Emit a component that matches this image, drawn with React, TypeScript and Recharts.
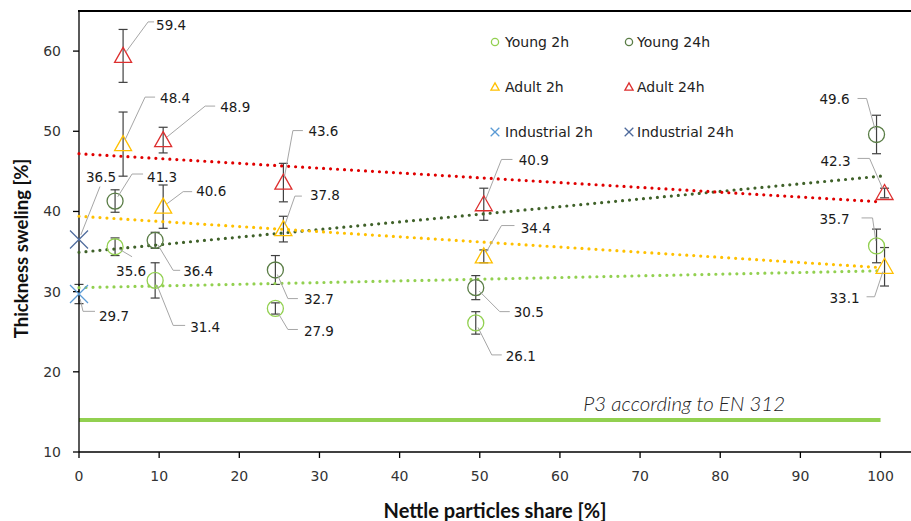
import { ScatterChart, Scatter, XAxis, YAxis, ErrorBar, ReferenceLine } from "recharts";

// x positions of the measured points (young shifted left, adult right of the nominal share)
const youngX = [4.5, 9.5, 24.5, 49.5, 99.5];
const adultX = [5.5, 10.5, 25.5, 50.5, 100.5];
const industrialX = [0];

const young2h = [35.6, 31.4, 27.9, 26.1, 35.7];
const young2hErr = [1.1, 2.2, 0.7, 1.4, 2.1];
const young24h = [41.3, 36.4, 32.7, 30.5, 49.6];
const young24hErr = [1.4, 1.0, 1.8, 1.5, 2.4];
const adult2h = [48.4, 40.6, 37.8, 34.4, 33.1];
const adult2hErr = [4.0, 2.7, 1.6, 0.8, 2.4];
const adult24h = [59.4, 48.9, 43.6, 40.9, 42.3];
const adult24hErr = [3.3, 1.6, 2.4, 2.0, 0.6];
const industrial2h = [29.7];
const industrial2hErr = [1.2];
const industrial24h = [36.5];

// linear trend lines (start / end values)
const trendX = [0, 100];
const young2hTrend = [30.5, 32.6];
const young24hTrend = [34.9, 44.4];
const adult2hTrend = [39.4, 33.0];
const adult24hTrend = [47.2, 41.2];

const p3Limit = 14;
const p3Text = "P3 according to EN 312";

const xTicks = [0, 10, 20, 30, 40, 50, 60, 70, 80, 90, 100];
const yTicks = [10, 20, 30, 40, 50, 60];

type MarkerKind = "circle" | "triangle" | "cross";

const SERIES: {
  key: string;
  name: string;
  xs: number[];
  ys: number[];
  errs: number[] | null;
  color: string;
  marker: MarkerKind;
}[] = [
  { key: "young2h", name: "Young 2h", xs: youngX, ys: young2h, errs: young2hErr, color: "#92d050", marker: "circle" },
  { key: "young24h", name: "Young 24h", xs: youngX, ys: young24h, errs: young24hErr, color: "#5a7d46", marker: "circle" },
  { key: "adult2h", name: "Adult 2h", xs: adultX, ys: adult2h, errs: adult2hErr, color: "#ffc000", marker: "triangle" },
  { key: "adult24h", name: "Adult 24h", xs: adultX, ys: adult24h, errs: adult24hErr, color: "#dd2f2f", marker: "triangle" },
  { key: "industrial2h", name: "Industrial 2h", xs: industrialX, ys: industrial2h, errs: industrial2hErr, color: "#5b9bd5", marker: "cross" },
  { key: "industrial24h", name: "Industrial 24h", xs: industrialX, ys: industrial24h, errs: null, color: "#4e6a9c", marker: "cross" },
];

const TRENDS = [
  { key: "t-young2h", ys: young2hTrend, color: "#92d050" },
  { key: "t-young24h", ys: young24hTrend, color: "#3f6129" },
  { key: "t-adult2h", ys: adult2hTrend, color: "#ffc000" },
  { key: "t-adult24h", ys: adult24hTrend, color: "#e00000" },
];

// data label placement: [elbowDx, elbowDy, horizontal length, textDx, textDy] in px
const LABEL_LAYOUT: Record<string, number[][]> = {
  young2h: [[17, 10, 0, 1, 25], [18, 45, 12, 35, 47], [12.5, 21, 10, 28.5, 23], [16, 32, 10, 30, 33.5], [-4, -28, -11, -27, -27]],
  young24h: [[17, -27, 11, 32, -24], [18, 30, 7, 28, 31], [12.5, 28.6, 10, 28.5, 29.6], [24, 24, 10, 38, 25], [-10, -36, -9, -27, -35]],
  adult2h: [[22, -47, 10, 37, -46], [20, -15, 9, 33, -15], [11.5, -33, 7, 26.5, -33.6], [17.7, -30.8, 13, 37, -28], [-10, 30, -8, -25, 31]],
  adult24h: [[25, -34, 6, 33, -31], [42, -34, 10, 57, -33], [9.5, -52, 10, 25, -51], [17.7, -44.8, 11, 35, -44], [-15, -34.6, -12, -34, -32]],
  industrial2h: [[4, 17.3, 12, 20, 22]],
  industrial24h: [[21, -53, 0, 7, -62]],
};

const Marker = ({ kind, x, y, color, s = 1 }: { kind: MarkerKind; x: number; y: number; color: string; s?: number }) => {
  if (kind === "circle") {
    return <circle cx={x} cy={y} r={8 * s} fill="none" stroke={color} strokeWidth={1.3} />;
  }
  if (kind === "triangle") {
    const pts = `${x},${y - 8.5 * s} ${x + 8.5 * s},${y + 6.5 * s} ${x - 8.5 * s},${y + 6.5 * s}`;
    return <polygon points={pts} fill="none" stroke={color} strokeWidth={1.3} />;
  }
  const d = 9 * s;
  return (
    <g stroke={color} strokeWidth={1.3}>
      <line x1={x - d} y1={y - d} x2={x + d} y2={y + d} />
      <line x1={x - d} y1={y + d} x2={x + d} y2={y - d} />
    </g>
  );
};

const makeShape = (s: (typeof SERIES)[number]) => (props: any) => {
  const { cx, cy, payload } = props;
  const lab = LABEL_LAYOUT[s.key][payload.i];
  const [ex, ey, h, tx, ty] = lab;
  const len = Math.hypot(ex, ey) || 1;
  const sx = cx + (ex / len) * 5;
  const sy = cy + (ey / len) * 5;
  return (
    <g>
      <Marker kind={s.marker} x={cx} y={cy} color={s.color} />
      <polyline
        points={`${sx},${sy} ${cx + ex},${cy + ey} ${cx + ex + h},${cy + ey}`}
        fill="none"
        stroke="#a6a6a6"
        strokeWidth={1}
      />
      <text
        x={cx + tx}
        y={cy + ty}
        dy="0.35em"
        textAnchor={tx < 0 ? "end" : "start"}
        fontFamily="DejaVu Sans"
        fontSize={13.5}
        fill="#1a1a1a"
      >
        {payload.y.toFixed(1)}
      </text>
    </g>
  );
};

// legend block of the chart
const Overlay = () => (
  <svg width={911} height={521} style={{ position: "absolute", left: 0, top: 0, pointerEvents: "none" }}>
    {SERIES.map((s, i) => {
      const col = i % 2;
      const row = Math.floor(i / 2);
      const mx = col === 0 ? 495 : 629;
      const tx = col === 0 ? 505 : 637;
      const y = 42 + row * 45;
      return (
        <g key={s.key}>
          <Marker kind={s.marker} x={mx} y={y} color={s.color} s={s.marker === "circle" ? 0.45 : 0.48} />
          <text x={tx} y={y} dy="0.35em" fontFamily="DejaVu Sans" fontSize={14} fill="#222">
            {s.name}
          </text>
        </g>
      );
    })}
  </svg>
);

const App = () => {
  return (
    <div style={{ position: "absolute", left: 0, top: 0, width: 911, height: 521, background: "#fff" }}>
      {/* top frame line of the plot area */}
      <div
        style={{ position: "absolute", left: 78, top: 10, width: 833, height: 2, background: "#000", zIndex: 2 }}
      />
      <ScatterChart width={911} height={521} margin={{ top: 11, right: 0, bottom: 0, left: 0 }}>
        <XAxis
          type="number"
          dataKey="x"
          domain={[0, 103.8]}
          ticks={xTicks}
          height={69}
          tickSize={6}
          tickMargin={13}
          axisLine={{ stroke: "#000", strokeWidth: 1.3 }}
          tickLine={{ stroke: "#000", strokeWidth: 1.3 }}
          tick={{ fill: "#333", fontSize: 14, fontFamily: "DejaVu Sans" }}
          label={{
            value: "Nettle particles share [%]",
            position: "insideBottom",
            offset: 3,
            fill: "#111",
            fontSize: 20,
            fontWeight: 700,
            fontFamily: "Lato",
          }}
        />
        <YAxis
          type="number"
          dataKey="y"
          domain={[10, 65]}
          ticks={yTicks}
          width={79}
          tickSize={6}
          tickMargin={12}
          axisLine={{ stroke: "#000", strokeWidth: 1.3 }}
          tickLine={{ stroke: "#000", strokeWidth: 1.3 }}
          tick={{ fill: "#333", fontSize: 14, fontFamily: "DejaVu Sans" }}
          label={{
            content: (p: any) => {
              const vb = p.viewBox;
              const x = vb.x + 22;
              const y = vb.y + vb.height / 2 + 17;
              return (
                <text
                  x={x}
                  y={y}
                  transform={`rotate(-90 ${x} ${y})`}
                  textAnchor="middle"
                  dy="0.35em"
                  fontFamily="Lato"
                  fontWeight={700}
                  fontSize={18.5}
                  fill="#111"
                >
                  Thickness sweling [%]
                </text>
              );
            },
          }}
        />
        <ReferenceLine
          segment={[
            { x: 0, y: p3Limit },
            { x: 100, y: p3Limit },
          ]}
          stroke="#92d050"
          strokeWidth={4}
          label={{
            content: (p: any) => {
              const vb = p.viewBox;
              return (
                <text
                  x={vb.x + vb.width * 0.629}
                  y={vb.y - 16}
                  dy="0.35em"
                  fontFamily="Lato"
                  fontStyle="italic"
                  fontWeight={300}
                  fontSize={20.5}
                  fill="#222"
                >
                  {p3Text}
                </text>
              );
            },
          }}
        />
        {TRENDS.map((t) => (
          <Scatter
            key={t.key}
            data={trendX.map((x, i) => ({ x, y: t.ys[i] }))}
            fill={t.color}
            line={{ stroke: t.color, strokeWidth: 3.2, strokeDasharray: "0 7", strokeLinecap: "round" }}
            shape={() => <g />}
            isAnimationActive={false}
          />
        ))}
        {SERIES.map((s) => (
          <Scatter
            key={s.key}
            name={s.name}
            data={s.xs.map((x, i) => ({ x, y: s.ys[i], err: s.errs ? s.errs[i] : 0, i }))}
            fill={s.color}
            shape={makeShape(s)}
            isAnimationActive={false}
          >
            {s.errs && (
              <ErrorBar
                dataKey="err"
                direction="y"
                width={4.5}
                stroke="#404040"
                strokeWidth={1.2}
                isAnimationActive={false}
              />
            )}
          </Scatter>
        ))}
      </ScatterChart>
      <Overlay />
    </div>
  );
};

export default App;
